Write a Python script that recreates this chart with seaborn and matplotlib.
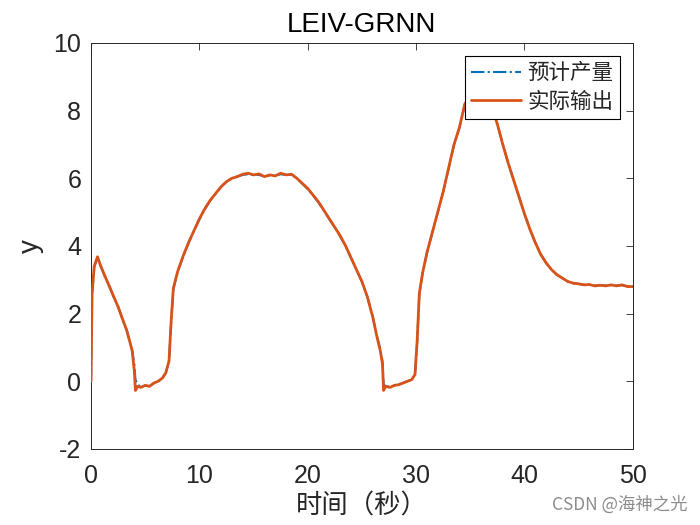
import matplotlib
matplotlib.use("Agg")
import matplotlib.pyplot as plt
import seaborn as sns
import pandas as pd

t = [0, 0.1, 0.3, 0.6, 0.9, 1.3, 1.7, 2.1, 2.5, 2.9, 3.3, 3.6, 3.8, 4.0, 4.1, 4.3, 4.6, 5.0, 5.4, 5.8,
     6.2, 6.6, 6.9, 7.2, 7.4, 7.6, 8.0, 8.5, 9.0, 9.5, 10.0, 10.5, 11.0, 11.5, 12.0, 12.5, 13.0, 13.5,
     14.0, 14.5, 15.0, 15.5, 16.0, 16.5, 17.0, 17.5, 18.0, 18.5, 19.0, 19.5, 20.0, 20.5, 21.0, 21.5,
     22.0, 22.5, 23.0, 23.5, 24.0, 24.5, 25.0, 25.5, 26.0, 26.4, 26.7, 26.9, 27.0, 27.2, 27.6, 28.0,
     28.4, 28.8, 29.2, 29.6, 29.9, 30.1, 30.3, 30.6, 31.0, 31.5, 32.0, 32.5, 33.0, 33.5, 34.0, 34.5,
     35.0, 35.5, 36.0, 36.5, 37.0, 37.5, 38.0, 38.5, 39.0, 39.5, 40.0, 40.5, 41.0, 41.5, 42.0, 42.5,
     43.0, 43.5, 44.0, 44.5, 45.0, 45.5, 46.0, 46.5, 47.0, 47.5, 48.0, 48.5, 49.0, 49.5, 50.0]

actual = [0.0, 2.6, 3.4, 3.68, 3.4, 3.1, 2.8, 2.5, 2.2, 1.85, 1.5, 1.15, 0.9, 0.3, -0.27, -0.15, -0.18, -0.12, -0.15, -0.05,
          0.0, 0.1, 0.25, 0.6, 1.8, 2.75, 3.25, 3.7, 4.1, 4.45, 4.8, 5.1, 5.35, 5.55, 5.75, 5.9, 6.0, 6.05,
          6.12, 6.15, 6.1, 6.13, 6.05, 6.1, 6.07, 6.15, 6.1, 6.12, 6.0, 5.85, 5.7, 5.5, 5.3, 5.05,
          4.8, 4.55, 4.3, 4.0, 3.65, 3.3, 2.95, 2.5, 1.9, 1.3, 0.9, 0.5, -0.27, -0.15, -0.18, -0.12,
          -0.1, -0.05, 0.0, 0.05, 0.2, 1.2, 2.6, 3.2, 3.8, 4.4, 5.0, 5.6, 6.3, 7.0, 7.5, 8.2,
          8.4, 8.45, 8.45, 8.4, 8.1, 7.6, 7.0, 6.45, 5.95, 5.45, 4.95, 4.5, 4.1, 3.75, 3.5, 3.3,
          3.15, 3.05, 2.95, 2.9, 2.88, 2.85, 2.86, 2.82, 2.84, 2.82, 2.85, 2.82, 2.85, 2.8, 2.8]

predicted = [0.0, 2.55, 3.38, 3.66, 3.42, 3.08, 2.82, 2.48, 2.22, 1.83, 1.52, 1.13, 0.92, 0.5, 0.05, -0.1, -0.16, -0.13, -0.14, -0.06,
             0.0, 0.1, 0.24, 0.6, 1.75, 2.72, 3.24, 3.68, 4.08, 4.44, 4.78, 5.08, 5.34, 5.54, 5.74, 5.9, 5.99, 6.05,
             6.1, 6.12, 6.1, 6.1, 6.06, 6.08, 6.07, 6.12, 6.1, 6.1, 6.0, 5.84, 5.68, 5.49, 5.28, 5.04,
             4.79, 4.55, 4.28, 3.99, 3.64, 3.3, 2.94, 2.5, 1.92, 1.32, 0.95, 0.6, -0.1, -0.14, -0.17, -0.12,
             -0.1, -0.05, 0.0, 0.05, 0.2, 1.15, 2.58, 3.18, 3.78, 4.4, 4.99, 5.6, 6.28, 6.98, 7.5, 8.18,
             8.38, 8.43, 8.43, 8.38, 8.08, 7.6, 7.02, 6.45, 5.95, 5.46, 4.95, 4.5, 4.1, 3.76, 3.5, 3.3,
             3.15, 3.05, 2.95, 2.9, 2.88, 2.85, 2.85, 2.83, 2.84, 2.83, 2.84, 2.83, 2.84, 2.81, 2.8]

series_names = ["预计产量", "实际输出"]
title = "LEIV-GRNN"
xlabel = "时间（秒）"
ylabel = "y"
xticks = [0, 10, 20, 30, 40, 50]
yticks = [-2, 0, 2, 4, 6, 8, 10]

sns.set_style("white")
plt.rcParams['font.family'] = ['Liberation Sans', 'Noto Sans CJK SC', 'DejaVu Sans']
plt.rcParams['axes.unicode_minus'] = False

fig = plt.figure(figsize=(7, 5.25), dpi=100)
ax = fig.add_axes([0.13, 0.1448, 0.774, 0.7734])

df_pred = pd.DataFrame({"t": t, "v": predicted})
df_act = pd.DataFrame({"t": t, "v": actual})
sns.lineplot(data=df_pred, x="t", y="v", ax=ax, color="#0072BD", lw=1.5,
             linestyle="-.", label=series_names[0], zorder=2)
sns.lineplot(data=df_act, x="t", y="v", ax=ax, color="#D95319", lw=2.0,
             label=series_names[1], zorder=3)

ax.set_xlim(0, 50)
ax.set_ylim(-2, 10)
ax.set_xticks(xticks)
ax.set_yticks(yticks)
ax.tick_params(direction="in", length=5, width=0.6, top=True, right=True,
               labelsize=18, colors="#262626")
ax.tick_params(axis="x", pad=11)
ax.tick_params(axis="y", pad=7)
for s in ax.spines.values():
    s.set_color("#262626")
    s.set_linewidth(0.7)

ax.set_title(title, fontsize=20, color="black", pad=8)
ax.set_xlabel(xlabel, fontsize=19, family=['Noto Sans CJK SC', 'DejaVu Sans'], color="#262626", labelpad=3)
ax.set_ylabel(ylabel, fontsize=20, color="#262626", labelpad=7)

leg = ax.legend(loc="upper right", frameon=True, fancybox=False,
                edgecolor="black", framealpha=1, borderpad=0.3, labelspacing=0.3,
                handlelength=2.3, handletextpad=0.3, borderaxespad=0.6,
                prop={'family': ['Noto Sans CJK SC', 'DejaVu Sans'], 'size': 15.5})
leg.get_frame().set_linewidth(0.8)

fig.text(0.982, 0.022, "CSDN @海神之光", ha="right", va="bottom", fontsize=12.5,
         color="#8c8c8c", family=['Noto Sans CJK SC', 'DejaVu Sans'])

fig.savefig("out.png", dpi=100, facecolor="white")
